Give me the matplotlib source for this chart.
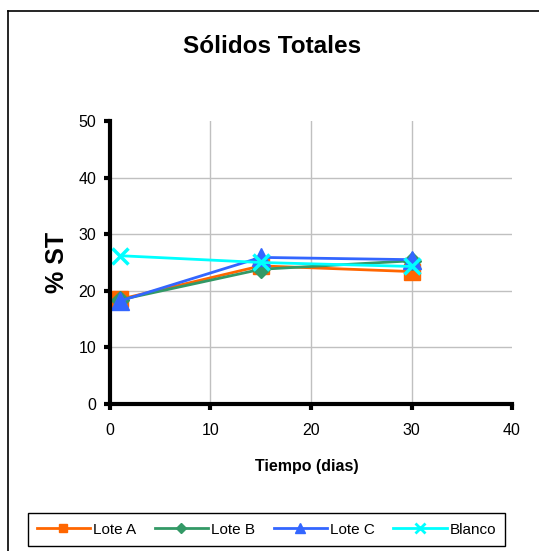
import matplotlib
matplotlib.use('Agg')
import matplotlib.pyplot as plt
from matplotlib.lines import Line2D

plt.rcParams['font.family'] = ['Liberation Sans', 'DejaVu Sans']

dias = [1, 15, 30]
lote_a = [18.5, 24.4, 23.4]
lote_b = [18.4, 23.8, 25.3]
lote_c = [18.2, 25.9, 25.5]
blanco = [26.2, 25.0, 24.3]

series = [
    ('Lote A', lote_a, '#FF6600', 's', 11, 6),
    ('Lote B', lote_b, '#339966', 'D', 9, 5),
    ('Lote C', lote_c, '#3366FF', '^', 13, 7),
    ('Blanco', blanco, '#00FFFF', 'x', 12, 7),
]

fig = plt.figure(figsize=(5.39, 5.51), dpi=100)
ax = fig.add_axes([0.204, 0.2668, 0.746, 0.5136])

handles = []
for name, vals, col, mk, ms, lms in series:
    mew = 2.5 if mk == 'x' else 1
    ax.plot(dias, vals, color=col, marker=mk, markersize=ms, mew=mew, lw=2)
    handles.append(Line2D([], [], color=col, marker=mk, markersize=lms,
                          mew=2 if mk == 'x' else 1, lw=2, label=name))

ax.set_xlim(0, 40)
ax.set_ylim(0, 50)
ax.set_xticks([0, 10, 20, 30, 40])
ax.set_yticks([0, 10, 20, 30, 40, 50])
ax.grid(True, color='#c0c0c0', lw=1)
ax.set_axisbelow(True)
ax.xaxis.get_gridlines()[-1].set_visible(False)
ax.yaxis.get_gridlines()[-1].set_visible(False)
for s in ['top', 'right']:
    ax.spines[s].set_visible(False)
for s in ['left', 'bottom']:
    ax.spines[s].set_linewidth(3)
ax.tick_params(direction='out', length=4, width=3, labelsize=11.5)
ax.tick_params(axis='x', pad=10)
ax.tick_params(axis='y', pad=6)

fig.text(0.505, 0.915, 'Sólidos Totales', ha='center', va='center', fontsize=17.5, fontweight='bold')
fig.text(57 / 539, 1 - 262 / 551, '% ST', ha='center', va='center', rotation=90,
         fontsize=18, fontweight='bold')
fig.text(307 / 539, 1 - 466 / 551, 'Tiempo (dias)', ha='center', va='center',
         fontsize=11.5, fontweight='bold')

fig.legend(handles=handles, loc='center', bbox_to_anchor=(266.5 / 539, 1 - 529.5 / 551), ncol=4,
           fontsize=11, frameon=True, fancybox=False, edgecolor='black', framealpha=1,
           handlelength=3.5, columnspacing=1.2, handletextpad=0.2, borderpad=0.6)

fig.add_artist(Line2D([8 / 539, 8 / 539], [0, 1 - 11 / 551], color='black', lw=1.2))
fig.add_artist(Line2D([8 / 539, 1], [1 - 11 / 551, 1 - 11 / 551], color='black', lw=1.2))

fig.savefig('out.png', dpi=100)
